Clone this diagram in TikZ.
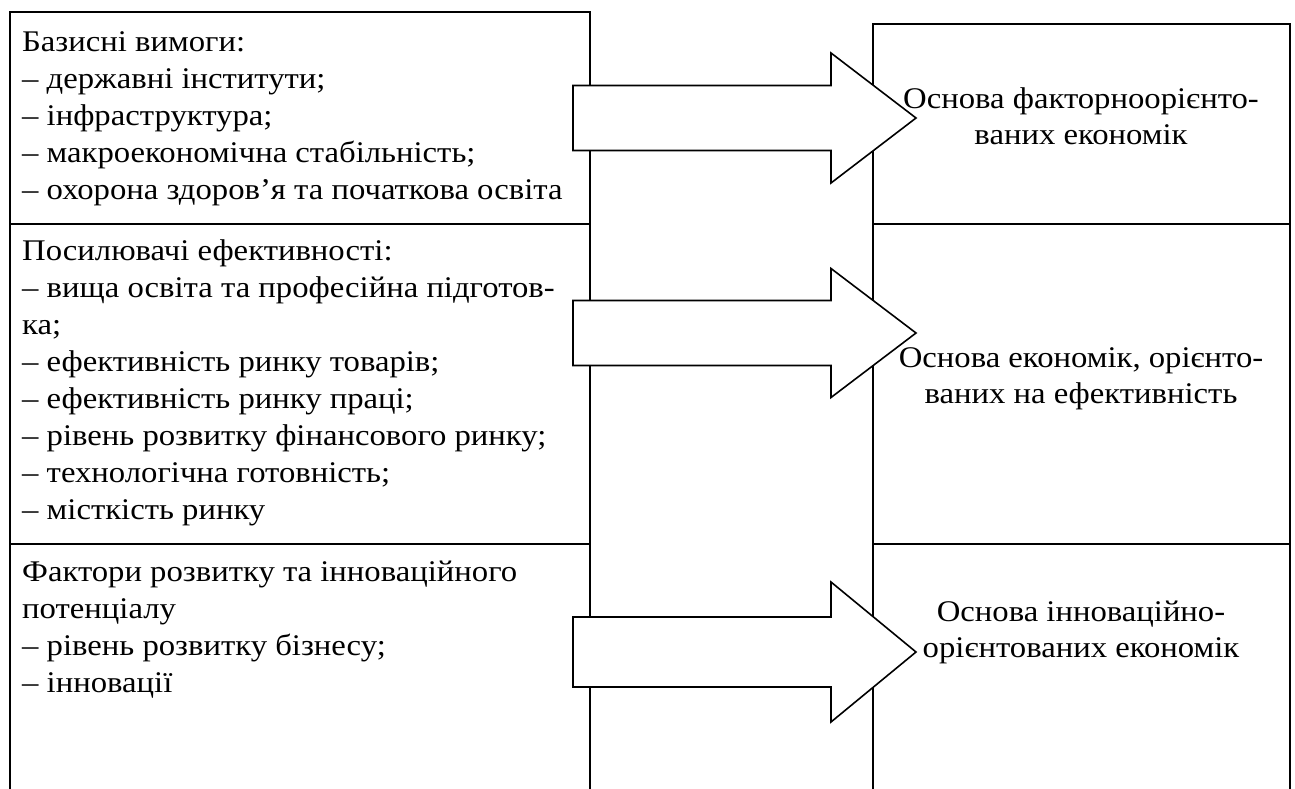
\documentclass[tikz,border=0pt]{standalone}
\usepackage{fontspec}
\setmainfont{Liberation Serif}[FakeStretch=1.09]
\usetikzlibrary{positioning}

\begin{document}
\begin{tikzpicture}[
    x=1pt, y=-1pt,
    frame/.style={line width=1.6pt, line cap=rect},
    % nodes are placed by the baseline of their last line
    cell/.style={anchor=base west, align=left, inner sep=0pt, font=\fontsize{30}{37}\selectfont},
    result/.style={anchor=base, align=center, inner sep=0pt, font=\fontsize{30}{36}\selectfont},
    blockarrow/.style={draw, fill=white, line width=1.6pt, line join=miter}
]
\useasboundingbox (0,0) rectangle (1295,789);

% left table
\draw[frame] (10,789) -- (10,12) -- (590,12) -- (590,789);
\draw[frame] (10,224) -- (590,224);
\draw[frame] (10,544) -- (590,544);

% right table
\draw[frame] (873,789) -- (873,24) -- (1290,24) -- (1290,789);
\draw[frame] (873,224) -- (1290,224);
\draw[frame] (873,544) -- (1290,544);

\node[cell] (basic) at (22,199) {
    Базисні вимоги:\\
    – державні інститути;\\
    – інфраструктура;\\
    – макроекономічна стабільність;\\
    – охорона здоров’я та початкова освіта
};
\node[cell] (efficiency) at (22,519) {
    Посилювачі ефективності:\\
    – вища освіта та професійна підготов-\\
    ка;\\
    – ефективність ринку товарів;\\
    – ефективність ринку праці;\\
    – рівень розвитку фінансового ринку;\\
    – технологічна готовність;\\
    – місткість ринку
};
\node[cell] (innovation) at (22,692) {
    Фактори розвитку та інноваційного\\
    потенціалу\\
    – рівень розвитку бізнесу;\\
    – інновації
};

% arrows drawn over the table lines
\foreach \name/\c/\s/\h in {arrowA/118/32.5/65, arrowB/333/32.5/64.5, arrowC/652/35/70} {
    \draw[blockarrow] (573,\c-\s) -- (831,\c-\s) -- (831,\c-\h) -- (916,\c)
        -- (831,\c+\h) -- (831,\c+\s) -- (573,\c+\s) -- cycle;
    \coordinate (\name) at (916,\c);
}

\node[result] (factor) at (1081,145) {
    Основа факторноорієнто-\\
    ваних економік
};
\node[result] (effic) at (1081,403) {
    Основа економік, орієнто-\\
    ваних на ефективність
};
\node[result] (innov) at (1081,657) {
    Основа інноваційно-\\
    орієнтованих економік
};
\end{tikzpicture}
\end{document}
